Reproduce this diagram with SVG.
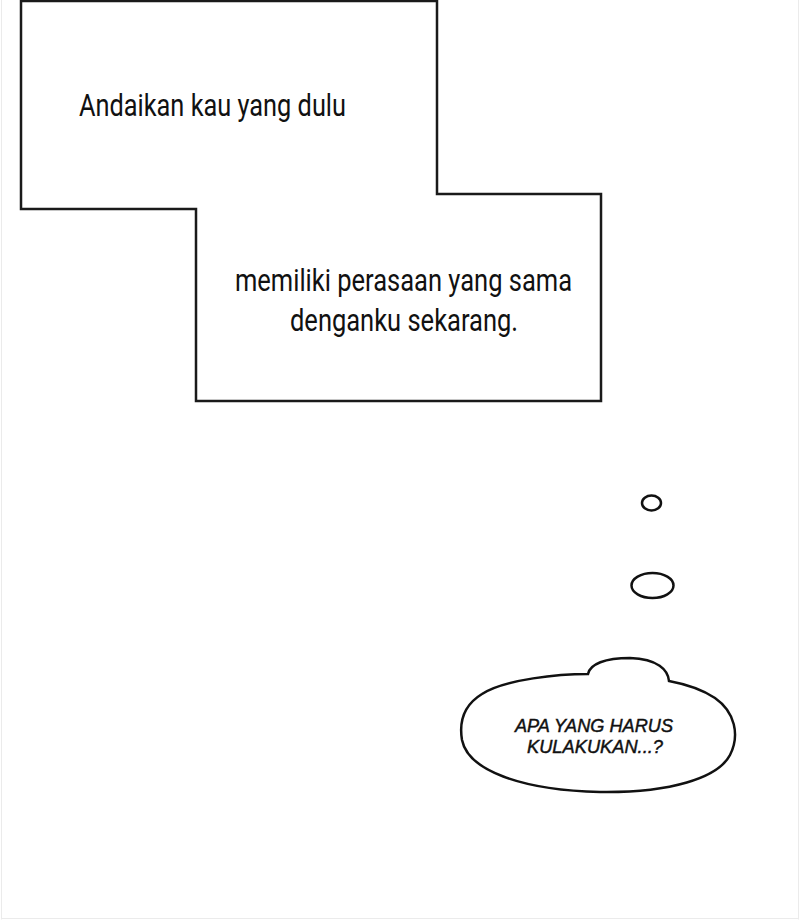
<svg xmlns="http://www.w3.org/2000/svg" width="800" height="920" viewBox="0 0 800 920">
  <style>
    .frame { fill: #ffffff; stroke: #1a1a1a; stroke-width: 2.5; stroke-linejoin: miter; }
    .bubble { fill: #ffffff; stroke: #111111; stroke-width: 2.5; }
    .cap { font-family: Roboto, "Liberation Sans", sans-serif; font-size: 31px; fill: #111111; }
    .think { font-family: "Liberation Sans", Arial, sans-serif; font-style: italic; font-size: 19px; fill: #111111; stroke: #111111; stroke-width: 0.45; }
  </style>
  <rect x="0" y="0" width="800" height="920" fill="#ffffff"/>
  <g id="page-border" fill="none" stroke="#ebebeb" stroke-width="1">
    <line x1="1.5" y1="0" x2="1.5" y2="919.5"/>
    <line x1="798.5" y1="0" x2="798.5" y2="919.5"/>
    <line x1="1.5" y1="918.5" x2="798.5" y2="918.5"/>
  </g>
  <g id="caption-box">
    <path class="frame" d="M21,1 H437 V194 H601 V401 H196 V209 H21 Z"/>
    <text class="cap" x="79" y="116" textLength="267" lengthAdjust="spacingAndGlyphs">Andaikan kau yang dulu</text>
    <text class="cap" x="235" y="291" textLength="337" lengthAdjust="spacingAndGlyphs">memiliki perasaan yang sama</text>
    <text class="cap" x="290" y="331" textLength="228" lengthAdjust="spacingAndGlyphs">denganku sekarang.</text>
  </g>
  <g id="thought-bubble">
    <ellipse class="bubble" cx="651.5" cy="503" rx="9.5" ry="7.5"/>
    <ellipse class="bubble" cx="652.5" cy="585.5" rx="21" ry="12.5"/>
    <path class="bubble" d="M588,674 C560,674 505,679 482,694 C464,705 459,722 462,740 C468,770 520,790 600,792 C670,793 718,778 730,755 C740,735 735,712 715,698 C700,688 685,684 669,681 C668,670 658,659 630,658 C605,658 590,664 588,674 Z"/>
    <text class="think" x="515" y="732" textLength="158" lengthAdjust="spacingAndGlyphs">APA YANG HARUS</text>
    <text class="think" x="527" y="753" textLength="136" lengthAdjust="spacingAndGlyphs">KULAKUKAN...?</text>
  </g>
</svg>
